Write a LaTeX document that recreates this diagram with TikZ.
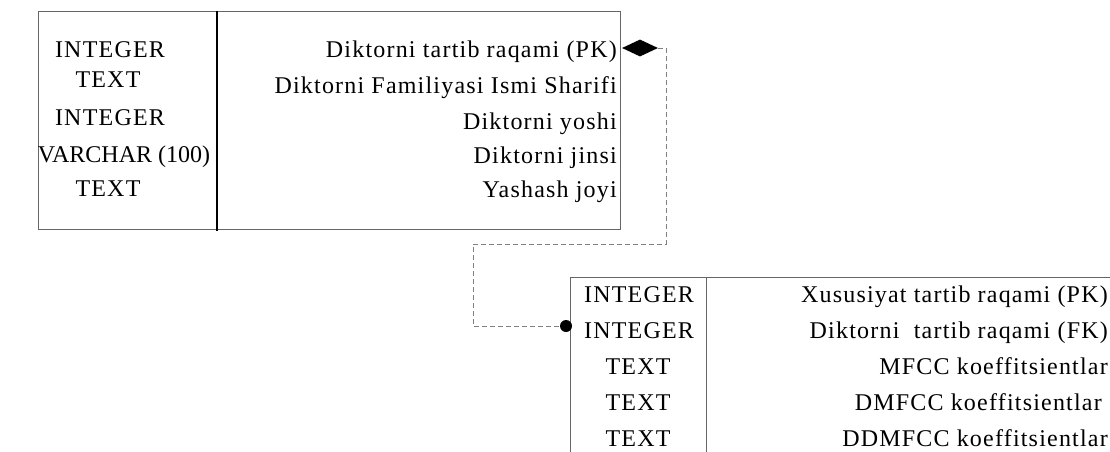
\documentclass[tikz,border=0pt]{standalone}
\usepackage{fontspec}
\setmainfont{Liberation Serif}[LetterSpace=5]
\usetikzlibrary{shapes.geometric}
\begin{document}
\begin{tikzpicture}[x=1pt,y=-1pt,
  font=\fontsize{24}{28}\selectfont,
  frame/.style={draw=black!60, line width=0.9pt},
  colline/.style={draw=black, line width=1.6pt},
  thinline/.style={draw=black!60, line width=0.9pt},
  typecell/.style={inner sep=0pt, anchor=base},
  namecell/.style={inner sep=0pt, anchor=base east},
  link/.style={draw=black!50, line width=0.8pt, dash pattern=on 5pt off 3pt},
  pkmark/.style={diamond, fill=black, inner sep=0pt, minimum width=36pt, minimum height=17pt},
  fkmark/.style={circle, fill=black, inner sep=0pt, minimum size=12pt}]
\useasboundingbox (0,0) rectangle (1110,452);

% --- table of speakers ---
\draw[frame] (38,11) rectangle (620,229);
\draw[colline] (217,11) -- (217,231);
\node[typecell] (t1) at (110,57) {INTEGER};
\node[typecell] (t2) at (108,87) {TEXT};
\node[typecell] (t3) at (110,125) {INTEGER};
\node[typecell] (t4) at (124,162) {\addfontfeature{LetterSpace=0}VARCHAR (100)};
\node[typecell] (t5) at (108,196) {TEXT};
\node[namecell] (n1) at (617,57) {Diktorni tartib raqami (PK)};
\node[namecell] (n2) at (617,93) {Diktorni Familiyasi Ismi Sharifi};
\node[namecell] (n3) at (617,129) {Diktorni yoshi};
\node[namecell] (n4) at (617,163) {Diktorni jinsi};
\node[namecell] (n5) at (617,197) {Yashash joyi};

% --- table of features (runs past the right and bottom edges) ---
\begin{scope}
\clip (0,0) rectangle (1110,452);
\draw[thinline] (1130,277) -- (570,277) -- (570,470);
\draw[thinline] (706,277) -- (706,470);
\end{scope}
\node[typecell] (f1) at (639,302) {INTEGER};
\node[typecell] (f2) at (639,338) {INTEGER};
\node[typecell] (f3) at (638,374) {TEXT};
\node[typecell] (f4) at (638,410) {TEXT};
\node[typecell] (f5) at (638,446) {TEXT};
\node[namecell] (g1) at (1108,302) {Xususiyat tartib raqami (PK)};
\node[namecell] (g2) at (1108,338) {Diktorni\ \ tartib raqami (FK)};
\node[namecell] (g3) at (1108,374) {MFCC koeffitsientlar};
\node[namecell] (g4) at (1102,410) {DMFCC koeffitsientlar};
\node[namecell] (g5) at (1108,446) {DDMFCC koeffitsientlar};

% --- relation between the two keys ---
\node[pkmark] (pk) at (640,48) {};
\node[fkmark] (fk) at (566,326) {};
\draw[link] (pk.east) -- (666,48) -- (666,244) -- (473,244) -- (473,326) -- (fk.west);
\end{tikzpicture}
\end{document}
